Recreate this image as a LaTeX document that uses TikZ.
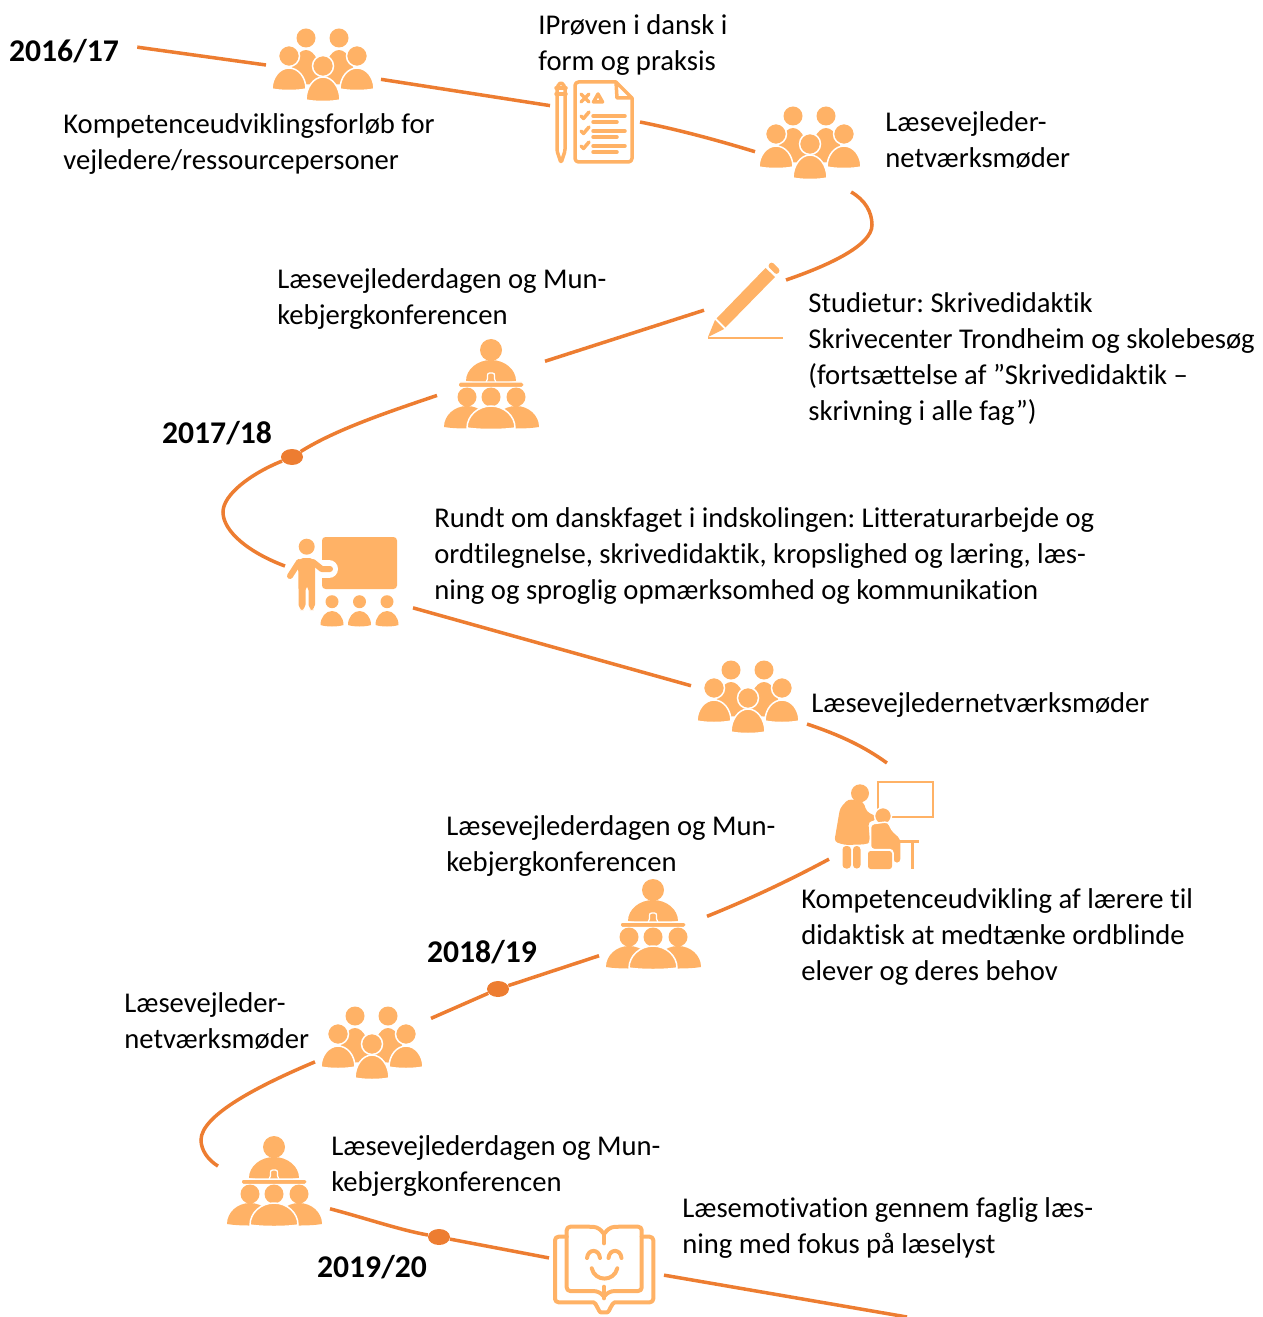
\documentclass[tikz,border=0pt]{standalone}
\usepackage{fontspec}
\setmainfont{Carlito}[Ligatures={TeX,NoCommon}]
\usepackage{xcolor}
\usetikzlibrary{shapes,positioning,calc,shapes.geometric,arrows.meta}
\definecolor{routeorange}{HTML}{ED7D31}
\definecolor{iconorange}{HTML}{FFB266}

\newcommand{\domepath}[4]{({#1-#2},#4) .. controls ({#1-#2},{#4-0.55*(#4-#3)}) and ({#1-0.55*#2},#3) .. (#1,#3) .. controls ({#1+0.55*#2},#3) and ({#1+#2},{#4-0.55*(#4-#3)}) .. ({#1+#2},#4) .. controls ({#1+0.5*#2},{#4+2}) and ({#1-0.5*#2},{#4+2}) .. cycle}

\tikzset{
  route/.style={draw=routeorange, line width=0.07cm},
  stop/.style={draw=none, fill=routeorange, ellipse, minimum width=0.44cm, minimum height=0.32cm, inner sep=0pt},
  iconbox/.style 2 args={minimum width=#1*0.02cm, minimum height=#2*0.02cm, inner sep=0pt, outer sep=0pt},
  solid icon/.style={fill=iconorange, draw=none},
  halo icon/.style={fill=iconorange, draw=white, line width=0.03cm},
  line icon/.style={draw=iconorange, line width=0.07cm, line cap=round, line join=round},
  lbl/.style={font=\fontsize{16.3}{20.4}\selectfont\frenchspacing, align=left, anchor=west, inner sep=0pt},
  yearlbl/.style={font=\fontsize{18}{20.4}\selectfont\bfseries, inner sep=0pt},
  people/.pic={
    \foreach \hx in {-17,16} {
      \path[solid icon] (\hx,-27) circle (9.5);
      \path[solid icon] \domepath{\hx}{16}{-15}{18};
    }
    \foreach \hx in {-34,34} {
      \path[halo icon] (\hx,-9) circle (10.5);
      \path[halo icon] \domepath{\hx}{17}{3}{24};
    }
    \path[halo icon] (0,1) circle (10.5);
    \path[halo icon] \domepath{0}{17}{12}{35};
  },
  lectern/.pic={
    \path[solid icon] (0,-32) circle (11);
    \path[solid icon] \domepath{0}{25}{-22}{-1};
    \draw[white, line width=0.025cm, rounded corners=1.5pt] (-5,0) -- (-3,-3) -- (-4,-9) -- (4,-9) -- (3,-3) -- (5,0);
    \path[halo icon, rounded corners=1pt] (-33,0) rectangle (33,5.5);
    \foreach \hx in {-24,25} {
      \path[solid icon] (\hx,15) circle (9.5);
      \path[solid icon] \domepath{\hx}{23}{24}{45};
    }
    \path[solid icon] (0,15) circle (9.5);
    \path[halo icon] \domepath{0}{24}{24}{46};
  },
}

\begin{document}
\begin{tikzpicture}[x=0.02cm, y=-0.02cm]
\useasboundingbox (0,0) rectangle (1262,1317);

\node[yearlbl, inner xsep=0.36cm] (yrA) at (64,51) {2016/17};
\node[yearlbl] (yrB) at (217,433) {2017/18};
\node[yearlbl] (yrC) at (482,952) {2018/19};
\node[yearlbl] (yrD) at (372,1267) {2019/20};

\node[iconbox={115}{76}] (grpA) at (323.5,65) {};
\node[iconbox={90}{82}] (testB) at (595,122) {};
\node[iconbox={110}{98}] (grpC) at (810,143) {};
\node[iconbox={82}{80}] (penD) at (745,300) {};
\node[iconbox={108}{92}] (confE) at (491,382) {};
\node[stop] (dotF) at (292,457) {};
\node[iconbox={128}{96}] (tchG) at (349,582) {};
\node[iconbox={116}{76}] (grpH) at (749,697) {};
\node[iconbox={94}{124}] (tutI) at (876,825) {};
\node[iconbox={108}{92}] (confJ) at (653,922) {};
\node[stop] (dotK) at (498,989) {};
\node[iconbox={116}{76}] (grpL) at (373,1043) {};
\node[iconbox={112}{92}] (confM) at (274,1179) {};
\node[stop] (dotN) at (439,1237) {};
\node[iconbox={115}{94}] (bookO) at (606.5,1265) {};
\coordinate (endP) at (907,1317);

\draw[route] (yrA.3) -- (grpA.180);
\draw[route] (grpA.-14.4) -- (testB.160.4);
\draw[route] (testB.0) .. controls (680,130) and (720,141) .. (grpC.189.3);
\draw[route] (grpC.-50.8) .. controls (865,200) and (872,212) .. (872,225) .. controls (872,245) and (830,265) .. (penD.26);
\draw[route] (penD.194) -- (confE.21.3);
\draw[route] (confE.194.5) .. controls (385,413) and (335,430) .. (dotF);
\draw[route] (dotF) .. controls (250,474) and (223,495) .. (223,512) .. controls (223,532) and (250,553) .. (tchG.166.8);
\draw[route] (tchG.-22.1) -- (grpH.169.3);
\draw[route] (grpH.-25) .. controls (840,735) and (865,747) .. (tutI.80.8);
\draw[route] (tutI.216.7) .. controls (790,880) and (750,899) .. (confJ.6.5);
\draw[route] (confJ.212.5) -- (dotK);
\draw[route] (dotK) -- (grpL.23.8);
\draw[route] (grpL.198.7) .. controls (260,1085) and (201,1115) .. (201,1140) .. controls (201,1150) and (208,1160) .. (confM.167.9);
\draw[route] (confM.-28.2) .. controls (365,1218) and (400,1230) .. (dotN);
\draw[route] (dotN) -- (bookO.173);
\draw[route] (bookO.-10.8) -- (endP);

\pic at (323,65) {people};
\pic at (810,143) {people};
\pic at (748,697) {people};
\pic at (372,1043) {people};
\pic at (confE) {lectern};
\pic at (confJ) {lectern};
\pic at (confM) {lectern};

\begin{scope}[line icon]
\draw[rounded corners=2pt] (616,82) -- (575,82) -- (575,162) -- (632,162) -- (632,98);
\draw (616,82) -- (632,98) -- (617,98) -- cycle;
\draw[rounded corners=1pt] (557,87) -- (557,151) -- (561,163) -- (565,151) -- (565,87) -- (561,82) -- cycle;
\draw (556,88) -- (566,88) (556,94) -- (566,94);
\draw (581,94) -- (589,102) (589,94) -- (581,102);
\draw (598,94) -- (602.5,102) -- (593.5,102) -- cycle;
\foreach \rowy in {116,131,146} {
  \draw (581,\rowy) -- (583.5,\rowy+2.5) -- (589,\rowy-4);
  \draw (593,\rowy) -- (625,\rowy) (593,\rowy+6) -- (617,\rowy+6);
}
\end{scope}

\path[solid icon] (708,337) -- (715,320) -- (724,329) -- cycle;
\path[solid icon] (716.5,318.5) -- (765.5,268) -- (775,277) -- (725.5,327.5) -- cycle;
\path[solid icon, rounded corners=1.5pt] (767.5,266) -- (771.5,261.5) -- (780.5,270.5) -- (776.5,275) -- cycle;
\draw[iconorange, line width=0.04cm] (708,338.5) -- (783,338.5);

\path[solid icon, rounded corners=2pt] (322,537) rectangle (397,589);
\draw[white, line width=0.36cm, line cap=round] (320,569) -- (329,569);
\path[solid icon] (306.7,546.7) circle (8);
\path[solid icon, rounded corners=3pt] (298,558) -- (315,558) -- (315,585) -- (315,610) -- (308.5,610) -- (308.5,585) -- (305.5,585) -- (305.5,610) -- (298.5,610) -- (298.5,585) -- cycle;
\draw[iconorange, line width=0.12cm, line cap=round, line join=round] (299,562) -- (290,576);
\draw[iconorange, line width=0.12cm, line cap=round, line join=round] (313,562) -- (321.7,569) -- (330,569);
\foreach \hx in {332,359.5,387} {
  \path[solid icon] (\hx,601.7) circle (6.5);
  \path[solid icon] \domepath{\hx}{11.5}{611}{625};
}

\draw[iconorange, line width=0.035cm] (878.3,781.7) rectangle (932.7,817.3);
\path[solid icon] (860,793.3) circle (9);
\path[solid icon, rounded corners=2pt] (848.3,799) -- (840,808.3) -- (834.3,841.7) -- (845,845) -- (866.7,844.3) -- (870,841.7) -- (868.3,821.7) -- (876.7,820) -- (876.7,816.7) -- (866.7,811.7) -- (863.3,801.7) -- cycle;
\path[solid icon, rounded corners=2pt] (842.5,846) rectangle (851,868.5);
\path[solid icon, rounded corners=2pt] (853,846) rectangle (860.5,868.5);
\path[halo icon] (883,816) circle (8.5);
\path[halo icon, rounded corners=2pt] (870.5,824) -- (888.3,821.7) -- (891.7,830) -- (901,838.3) -- (901,863.3) -- (893,863.3) -- (893,849.5) -- (870.5,849.5) -- cycle;
\path[solid icon, rounded corners=1.5pt] (868,851) rectangle (892,869);
\path[solid icon] (891.7,840) rectangle (919,843.3);
\path[solid icon] (911,843) rectangle (914.3,868.5);

\begin{scope}[line icon, line width=0.08cm]
\draw[rounded corners=2pt] (590,1226.7) .. controls (598,1227) and (602,1231) .. (604,1235.7) .. controls (606,1231) and (610,1227) .. (618,1226.7) -- (641.7,1226.7) -- (641.7,1291) -- (618,1291) .. controls (610,1291) and (606,1294) .. (604,1298.3) .. controls (602,1294) and (598,1291) .. (590,1291) -- (566.7,1291) -- (566.7,1226.7) -- cycle;
\draw (604,1235.7) -- (604,1243.3) (604,1286.7) -- (604,1298.3);
\draw[rounded corners=2pt] (566.7,1236.7) -- (555,1236.7) -- (555,1302.3) -- (590,1302.3) .. controls (596,1302.3) and (599,1312.3) .. (604,1312.3) .. controls (609,1312.3) and (612,1302.3) .. (618.3,1302.3) -- (653.3,1302.3) -- (653.3,1236.7) -- (641.7,1236.7);
\draw (587,1258) .. controls (588,1248.5) and (599,1248.5) .. (600,1258);
\draw (608.5,1258) .. controls (609.5,1248.5) and (620.5,1248.5) .. (621.5,1258);
\draw (591.7,1268.3) .. controls (595,1282) and (614,1282) .. (617.3,1268.3);
\end{scope}

\node[lbl] (txtA) at (63,144) {Kompetenceudviklingsforløb for\\vejledere/ressourcepersoner};
\node[lbl] (txtB) at (538,45) {IPrøven i dansk i\\form og praksis};
\node[lbl] (txtC) at (885,140) {Læsevejleder-\\netværksmøder};
\node[lbl] (txtD) at (808,359) {Studietur: Skrivedidaktik\\Skrivecenter Trondheim og skolebesøg\\(fortsættelse af ”Skrivedidaktik –\\skrivning i alle fag”)};
\node[lbl] (txtE) at (277,299) {Læsevejlederdagen og Mun-\\kebjergkonferencen};
\node[lbl] (txtG) at (434,556) {Rundt om danskfaget i indskolingen: Litteraturarbejde og\\ordtilegnelse, skrivedidaktik, kropslighed og læring, læs-\\ning og sproglig opmærksomhed og kommunikation};
\node[lbl] (txtH) at (811,705) {Læsevejledernetværksmøder};
\node[lbl] (txtJ) at (446,846) {Læsevejlederdagen og Mun-\\kebjergkonferencen};
\node[lbl] (txtI) at (801,937) {Kompetenceudvikling af lærere til\\didaktisk at medtænke ordblinde\\elever og deres behov};
\node[lbl] (txtL) at (124,1021) {Læsevejleder-\\netværksmøder};
\node[lbl] (txtM) at (331,1166) {Læsevejlederdagen og Mun-\\kebjergkonferencen};
\node[lbl] (txtO) at (682,1228) {Læsemotivation gennem faglig læs-\\ning med fokus på læselyst};
\end{tikzpicture}
\end{document}
